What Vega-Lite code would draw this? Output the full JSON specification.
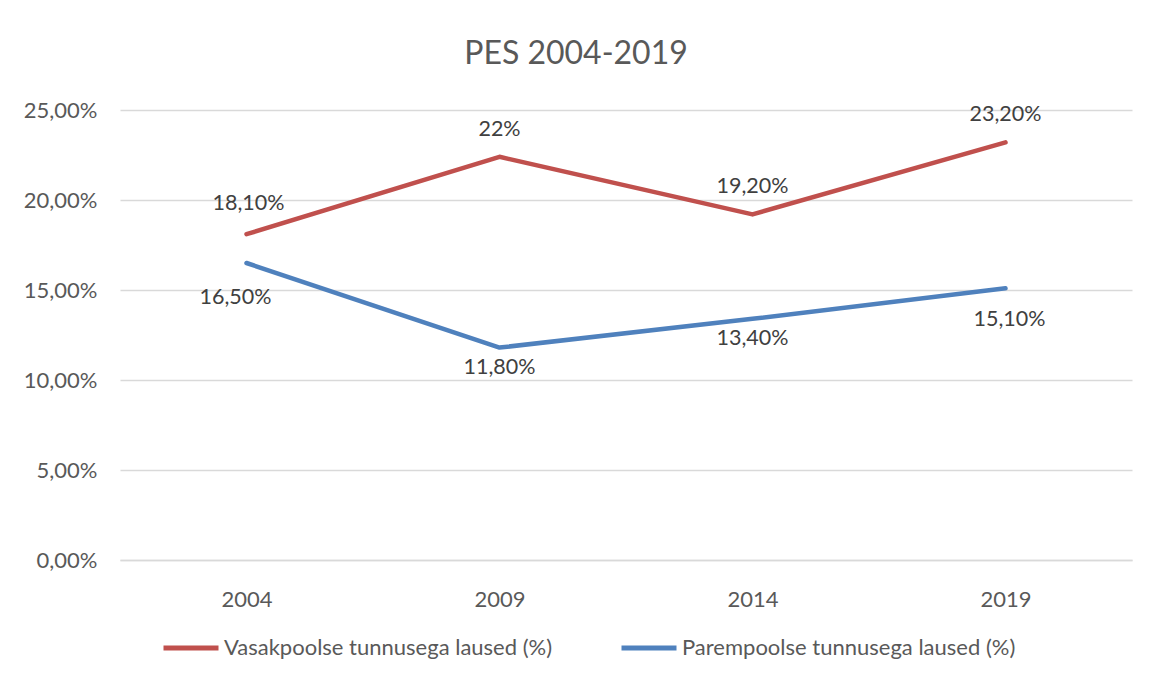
{
  "$schema": "https://vega.github.io/schema/vega-lite/v6.json",
  "width": 1012,
  "height": 450,
  "autosize": "none",
  "padding": {"left": 120, "top": 110, "right": 19, "bottom": 115},
  "background": "white",
  "config": {
    "font": "Lato",
    "view": {"stroke": null},
    "axis": {"labelFont": "Lato", "labelColor": "#595959", "labelFontSize": 22, "gridColor": "#D9D9D9", "gridWidth": 1.3, "ticks": false, "title": null},
    "legend": {"labelFont": "Lato", "labelColor": "#595959", "labelFontSize": 22, "labelLimit": 0}
  },
  "title": {"text": "PES 2004-2019", "fontSize": 32, "font": "Lato", "fontWeight": "normal", "color": "#595959", "anchor": "middle", "dx": -50, "offset": 28},
  "data": {
    "values": [
      {"year": "2004", "series": "Vasakpoolse tunnusega laused (%)", "value": 18.1, "label": "18,10%"},
      {"year": "2009", "series": "Vasakpoolse tunnusega laused (%)", "value": 22.4, "label": "22%"},
      {"year": "2014", "series": "Vasakpoolse tunnusega laused (%)", "value": 19.2, "label": "19,20%"},
      {"year": "2019", "series": "Vasakpoolse tunnusega laused (%)", "value": 23.2, "label": "23,20%"},
      {"year": "2004", "series": "Parempoolse tunnusega laused (%)", "value": 16.5, "label": "16,50%"},
      {"year": "2009", "series": "Parempoolse tunnusega laused (%)", "value": 11.8, "label": "11,80%"},
      {"year": "2014", "series": "Parempoolse tunnusega laused (%)", "value": 13.4, "label": "13,40%"},
      {"year": "2019", "series": "Parempoolse tunnusega laused (%)", "value": 15.1, "label": "15,10%"}
    ]
  },
  "encoding": {
    "x": {"field": "year", "type": "ordinal", "scale": {"paddingInner": 0, "paddingOuter": 0},
          "axis": {"labelAngle": 0, "labelPadding": 29, "domainColor": "#D9D9D9", "domainWidth": 1.3, "grid": false}},
    "y": {"field": "value", "type": "quantitative", "scale": {"domain": [0, 25], "nice": false},
          "axis": {"values": [0, 5, 10, 15, 20, 25], "labelPadding": 23, "domain": false,
                   "labelExpr": "replace(format(datum.value, '.2f'), '.', ',') + '%'"}}
  },
  "layer": [
    {
      "mark": {"type": "line", "strokeWidth": 4.5, "strokeCap": "round", "strokeJoin": "round"},
      "encoding": {
        "color": {"field": "series", "type": "nominal",
                  "scale": {"domain": ["Vasakpoolse tunnusega laused (%)", "Parempoolse tunnusega laused (%)"], "range": ["#C0504D", "#4F81BD"]},
                  "legend": {"title": null, "orient": "none", "direction": "horizontal", "legendX": 41, "legendY": 508,
                             "symbolType": "stroke", "symbolSize": 3025, "symbolStrokeWidth": 5, "labelOffset": 3, "columnPadding": 58}}
      }
    },
    {
      "transform": [{"filter": "datum.series == 'Vasakpoolse tunnusega laused (%)' && datum.year != '2004'"}],
      "mark": {"type": "text", "fontSize": 21.5, "color": "#404040", "dy": -27},
      "encoding": {"text": {"field": "label"}}
    },
    {
      "transform": [{"filter": "datum.series == 'Vasakpoolse tunnusega laused (%)' && datum.year == '2004'"}],
      "mark": {"type": "text", "fontSize": 21.5, "color": "#404040", "dy": -30, "dx": 2},
      "encoding": {"text": {"field": "label"}}
    },
    {
      "transform": [{"filter": "datum.series == 'Parempoolse tunnusega laused (%)' && (datum.year == '2009' || datum.year == '2014')"}],
      "mark": {"type": "text", "fontSize": 21.5, "color": "#404040", "dy": 20},
      "encoding": {"text": {"field": "label"}}
    },
    {
      "transform": [{"filter": "datum.series == 'Parempoolse tunnusega laused (%)' && datum.year == '2019'"}],
      "mark": {"type": "text", "fontSize": 21.5, "color": "#404040", "dy": 32, "dx": 4},
      "encoding": {"text": {"field": "label"}}
    },
    {
      "transform": [{"filter": "datum.series == 'Parempoolse tunnusega laused (%)' && datum.year == '2004'"}],
      "mark": {"type": "text", "fontSize": 21.5, "color": "#404040", "dy": 35, "dx": -11},
      "encoding": {"text": {"field": "label"}}
    }
  ]
}
